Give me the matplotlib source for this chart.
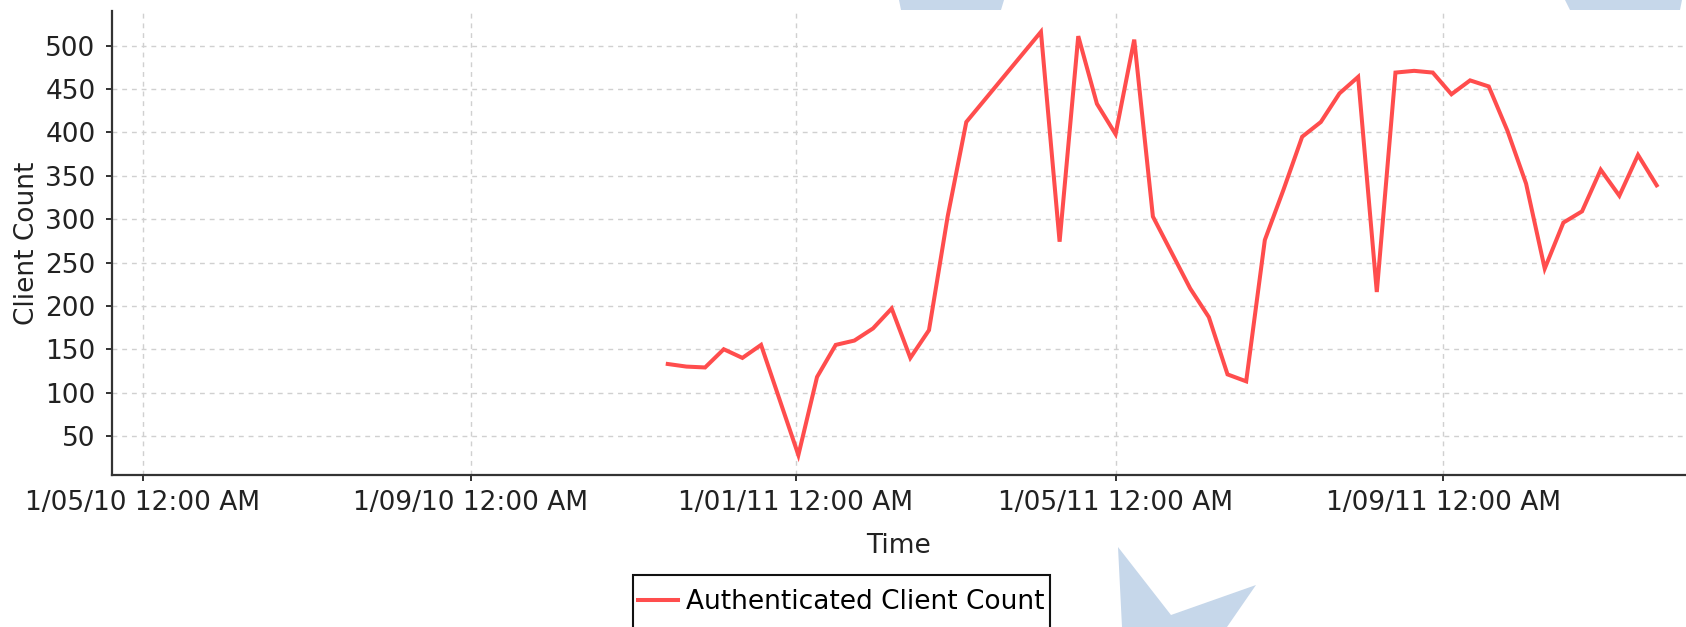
import datetime as dt

import matplotlib
matplotlib.use("Agg")
import matplotlib.pyplot as plt
import matplotlib.dates as mdates
from matplotlib.patches import Polygon, Rectangle
from matplotlib.ticker import FuncFormatter

# weekly samples (gaps where no sample was taken)
dates = [
    "2010-11-14", "2010-11-21", "2010-11-28", "2010-12-05", "2010-12-12",
    "2010-12-19", "2011-01-02", "2011-01-09", "2011-01-16", "2011-01-23",
    "2011-01-30", "2011-02-06", "2011-02-13", "2011-02-20", "2011-02-27",
    "2011-03-06", "2011-04-03", "2011-04-10", "2011-04-17", "2011-04-24",
    "2011-05-01", "2011-05-08", "2011-05-15", "2011-05-29", "2011-06-05",
    "2011-06-12", "2011-06-19", "2011-06-26", "2011-07-03", "2011-07-10",
    "2011-07-17", "2011-07-24", "2011-07-31", "2011-08-07", "2011-08-14",
    "2011-08-21", "2011-08-28", "2011-09-04", "2011-09-11", "2011-09-18",
    "2011-09-25", "2011-10-02", "2011-10-09", "2011-10-16", "2011-10-23",
    "2011-10-30", "2011-11-06", "2011-11-13", "2011-11-20",
]
client_count = [
    133, 130, 129, 150, 140,
    155, 28, 118, 155, 160,
    174, 197, 140, 172, 303,
    412, 516, 274, 511, 433,
    398, 507, 303, 220, 187,
    121, 113, 276, 334, 395,
    412, 445, 464, 216, 469,
    471, 469, 444, 460, 453,
    402, 341, 243, 296, 309,
    357, 327, 374, 339,
]
series_name = "Authenticated Client Count"
y_ticks = [50, 100, 150, 200, 250, 300, 350, 400, 450, 500]

W, H = 1686, 627
plt.rcParams["font.family"] = ["DejaVu Sans"]
fig = plt.figure(figsize=(W / 100, H / 100), dpi=100)
fig.patch.set_facecolor("white")

# light blue watermark bits peeking out round the plot (pixel coords)
wm_color = "#c6d7ea"
shapes = [
    [(899, 0), (1004, 0), (1001, 10), (901, 10)],
    [(1565, 0), (1682, 0), (1680, 10), (1570, 10)],
    [(1118, 547), (1171, 615), (1256, 585), (1227, 627), (1122, 627)],
]
for pts in shapes:
    fig.add_artist(Polygon([(x / W, 1 - y / H) for x, y in pts],
                           closed=True, transform=fig.transFigure,
                           facecolor=wm_color, edgecolor="none", zorder=0))

ax = fig.add_axes([112 / W, 1 - 475 / H, (W - 112) / W, (475 - 11) / H])
ax.set_facecolor("white")

x = [dt.datetime.strptime(d, "%Y-%m-%d") for d in dates]
ax.plot(x, client_count, color="#ff4d4d", linewidth=2.9, label=series_name,
        solid_joinstyle="miter", zorder=3)

ax.set_xlim(dt.datetime(2010, 4, 19, 12), dt.datetime(2011, 12, 1))
ax.set_ylim(5, 540)
ax.set_yticks(y_ticks)
ax.xaxis.set_major_locator(mdates.MonthLocator(bymonth=[1, 5, 9]))
ax.xaxis.set_major_formatter(FuncFormatter(
    lambda v, pos: "{}/{}".format(mdates.num2date(v).day,
                                  mdates.num2date(v).strftime("%m/%y 12:00 AM"))))

ax.grid(True, color="#d0d0d0", linestyle=(0, (3.5, 3.5)), linewidth=1.0)
for side in ["top", "right"]:
    ax.spines[side].set_visible(False)
for side in ["left", "bottom"]:
    ax.spines[side].set_color("#333333")
    ax.spines[side].set_linewidth(1.6)

ax.tick_params(axis="y", length=4.3, width=1.3, pad=7.5, labelsize=19,
               colors="#222222")
ax.tick_params(axis="x", length=4.3, width=1.3, pad=6.5, labelsize=19,
               colors="#222222")

ax.set_ylabel("Client Count", fontsize=19, color="#222222", va="center")
ax.yaxis.set_label_coords(-85 / (W - 112), 0.5)
ax.set_xlabel("Time", fontsize=19, color="#222222", va="center")
ax.xaxis.set_label_coords(0.5, -71 / 464)

# legend: box runs off the bottom of the image, so draw its frame by hand
leg = fig.legend(loc="upper center", bbox_to_anchor=(0.499, 1 - 584 / H),
                 fontsize=19, frameon=False, handlelength=1.5,
                 handletextpad=0.3, borderpad=0.2, borderaxespad=0)
fig.canvas.draw()
bb = leg.get_window_extent()
top = H - 575
fig.add_artist(Rectangle((bb.x0, -20), bb.width, top + 20, transform=None,
                         facecolor="none", edgecolor="#111111",
                         linewidth=1.5, zorder=5))

fig.savefig("out.png", dpi=100)
